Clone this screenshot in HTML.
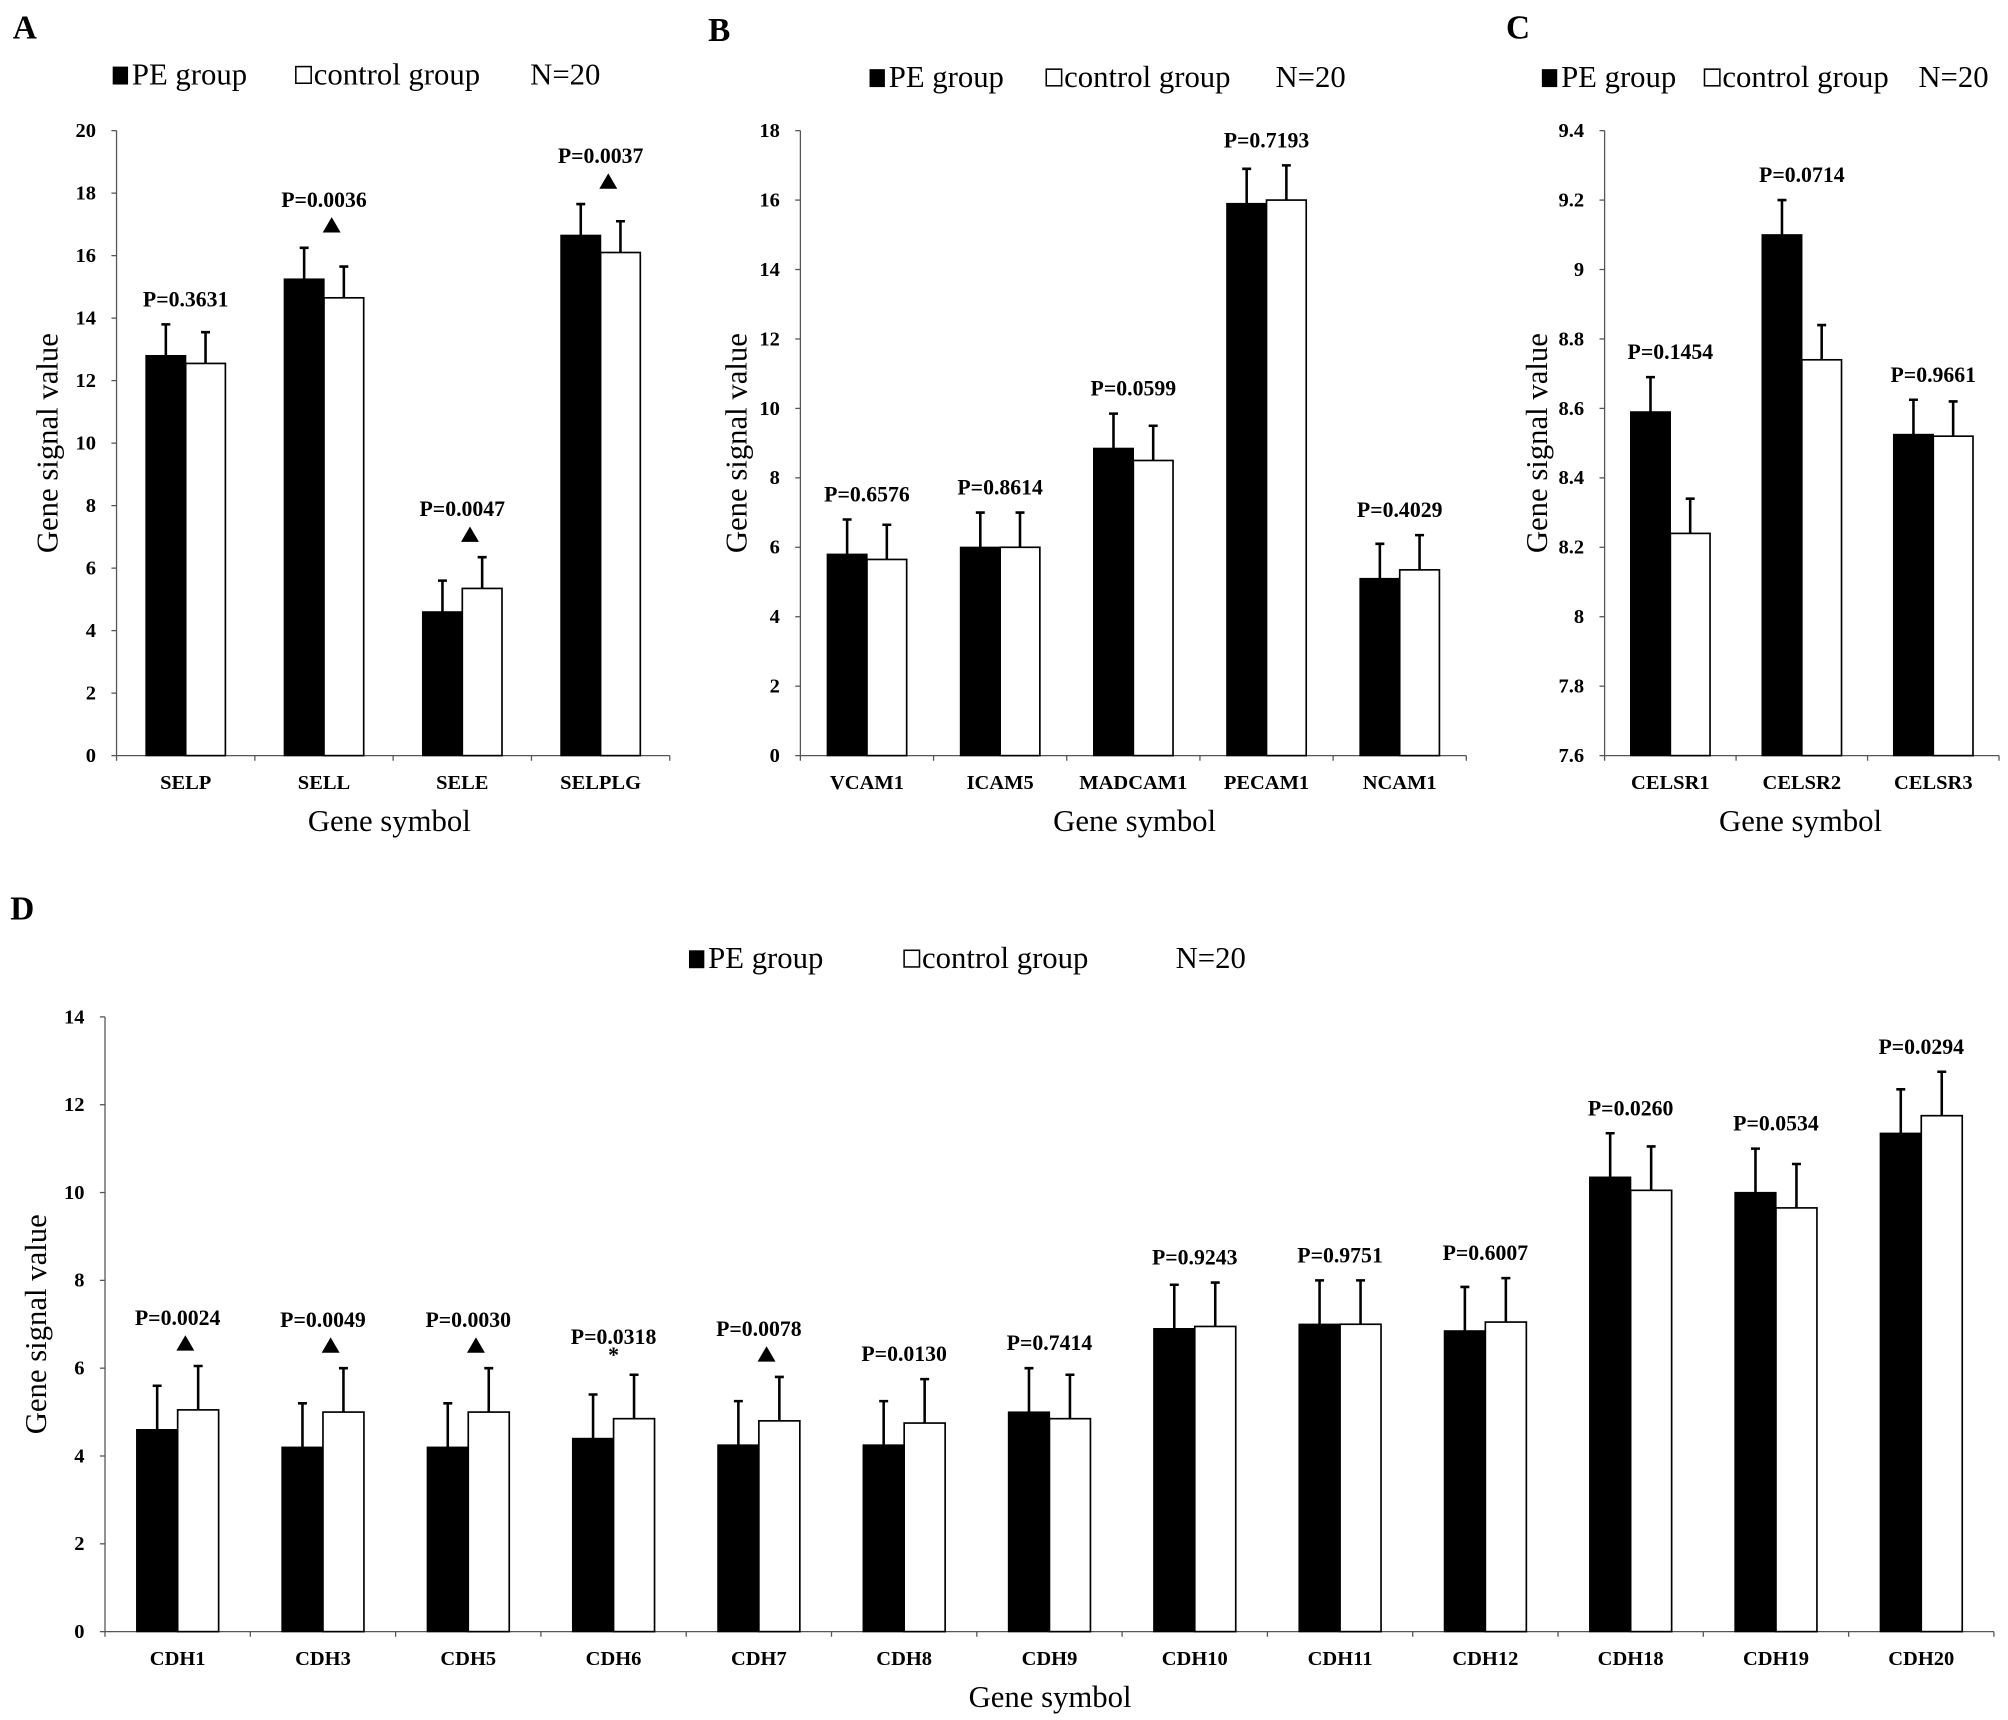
<!DOCTYPE html>
<html><head><meta charset="utf-8"><style>
html,body{margin:0;padding:0;background:#fff}
svg{display:block}
text{font-family:"Liberation Serif",serif;fill:#000}
.tick{font-size:16px;font-weight:bold}
.cat{font-size:16px;font-weight:bold}
.pl{font-size:17px;font-weight:bold}
.tt{font-size:24px}
.lg{font-size:24px}
.pn{font-size:26px;font-weight:bold}
</style></head><body>
<svg id="fig" width="2008" height="1720" viewBox="0 0 1568 1343" preserveAspectRatio="none" xmlns="http://www.w3.org/2000/svg"></svg>
<script>
// Panel A
const catsA = ["SELP","SELL","SELE","SELPLG"];
const peA = [12.8,15.25,4.6,16.65];
const ctA = [12.55,14.65,5.35,16.1];
const errPeA = [1.0,1.0,1.0,1.0];
const errCtA = [1.0,1.0,1.0,1.0];
const pA = ["P=0.3631","P=0.0036","P=0.0047","P=0.0037"];
const mA = ["","tri","tri","tri"];
const ticksA = [0,2,4,6,8,10,12,14,16,18,20];
// Panel B
const catsB = ["VCAM1","ICAM5","MADCAM1","PECAM1","NCAM1"];
const peB = [5.8,6.0,8.85,15.9,5.1];
const ctB = [5.65,6.0,8.5,16.0,5.35];
const errPeB = [1.0,1.0,1.0,1.0,1.0];
const errCtB = [1.0,1.0,1.0,1.0,1.0];
const pB = ["P=0.6576","P=0.8614","P=0.0599","P=0.7193","P=0.4029"];
const mB = ["","","","",""];
const ticksB = [0,2,4,6,8,10,12,14,16,18];
// Panel C
const catsC = ["CELSR1","CELSR2","CELSR3"];
const peC = [8.59,9.1,8.525];
const ctC = [8.24,8.74,8.52];
const errPeC = [0.1,0.1,0.1];
const errCtC = [0.1,0.1,0.1];
const pC = ["P=0.1454","P=0.0714","P=0.9661"];
const mC = ["","",""];
const ticksC = [7.6,7.8,8,8.2,8.4,8.6,8.8,9,9.2,9.4];
// Panel D
const catsD = ["CDH1","CDH3","CDH5","CDH6","CDH7","CDH8","CDH9","CDH10","CDH11","CDH12","CDH18","CDH19","CDH20"];
const peD = [4.6,4.2,4.2,4.4,4.25,4.25,5.0,6.9,7.0,6.85,10.35,10.0,11.35];
const ctD = [5.05,5.0,5.0,4.85,4.8,4.75,4.85,6.95,7.0,7.05,10.05,9.65,11.75];
const errPeD = [1,1,1,1,1,1,1,1,1,1,1,1,1];
const errCtD = [1,1,1,1,1,1,1,1,1,1,1,1,1];
const pD = ["P=0.0024","P=0.0049","P=0.0030","P=0.0318","P=0.0078","P=0.0130","P=0.7414","P=0.9243","P=0.9751","P=0.6007","P=0.0260","P=0.0534","P=0.0294"];
const mD = ["tri","tri","tri","star","tri","","","","","","","",""];
const ticksD = [0,2,4,6,8,10,12,14];

const NS="http://www.w3.org/2000/svg";
const svg=document.getElementById('fig');
function mk(tag,attrs,parent,txt){const e=document.createElementNS(NS,tag);for(const k in attrs)e.setAttribute(k,attrs[k]);if(txt!==undefined)e.textContent=txt;(parent||svg).appendChild(e);return e;}

function panel(o){
  const g=mk('g',{});
  
  
  const ymin=o.ticks[0], ymax=o.ticks[o.ticks.length-1];
  const Y=v=>o.y0-(v-ymin)/(ymax-ymin)*(o.y0-o.yTop);
  const n=o.cats.length, cw=(o.xEnd-o.x0)/n;
  const X=i=>o.x0+cw*(i+0.5);
  const L=mk('text',{x:o.lx,y:o.ly,class:'pn'},g,o.letter);
  
  
  const lg=mk('g',{},g);
  
  
  const s1=mk('rect',{x:o.leg[0],y:o.legY-14,width:12,height:14,fill:'#000'},lg);
  
  
  const t1=mk('text',{x:o.leg[0]+15,y:o.legY,class:'lg'},lg,'PE group');
  
  
  const s2=mk('rect',{x:o.leg[1],y:o.legY-14,width:12,height:13,fill:'#fff',stroke:'#000','stroke-width':1.2},lg);
  
  
  const t2=mk('text',{x:o.leg[1]+14,y:o.legY,class:'lg'},lg,'control group');
  
  
  const t3=mk('text',{x:o.leg[2],y:o.legY,class:'lg'},lg,'N=20');
  
  
  const ya=mk('line',{x1:o.x0,y1:o.yTop,x2:o.x0,y2:o.y0,stroke:'#555','stroke-width':1},g);
  
  
  const xa=mk('line',{x1:o.x0,y1:o.y0,x2:o.xEnd,y2:o.y0,stroke:'#555','stroke-width':1},g);
  
  
  o.ticks.forEach(t=>{
    mk('line',{x1:o.x0-4,y1:Y(t),x2:o.x0,y2:Y(t),stroke:'#555'},g);
    const tl=mk('text',{x:o.x0-16,y:Y(t)+5,class:'tick','text-anchor':'end'},g,String(t));
    
    
  });
  for(let i=0;i<=n;i++) mk('line',{x1:o.x0+cw*i,y1:o.y0,x2:o.x0+cw*i,y2:o.y0+4,stroke:'#555'},g);
  const bw=o.bw;
  o.cats.forEach((c,i)=>{
    const cx=X(i);
    const b1=mk('rect',{x:cx-bw,y:Y(o.pe[i]),width:bw,height:o.y0-Y(o.pe[i]),fill:'#000',stroke:'#000'},g);
    
    
    const b2=mk('rect',{x:cx,y:Y(o.ct[i]),width:bw,height:o.y0-Y(o.ct[i]),fill:'#fff',stroke:'#000','stroke-width':1.3},g);
    
    
    const e1t=Y(o.pe[i]+o.epe[i]), e2t=Y(o.ct[i]+o.ect[i]);
    const ex1=cx-bw/2, ex2=cx+bw/2;
    const e1=mk('path',{d:`M${ex1},${Y(o.pe[i])}V${e1t}M${ex1-3.5},${e1t}H${ex1+3.5}`,stroke:'#000','stroke-width':2,fill:'none'},g);
    
    
    const e2=mk('path',{d:`M${ex2},${Y(o.ct[i])}V${e2t}M${ex2-3.5},${e2t}H${ex2+3.5}`,stroke:'#000','stroke-width':2,fill:'none'},g);
    
    
    const top=Math.min(e1t,e2t);
    let py=top-14;
    if(o.mk[i]==='tri'){
      const ty=top-12, tx=cx+6;
      const tr=mk('path',{d:`M${tx-7},${ty}L${tx+7},${ty}L${tx},${ty-12}Z`,fill:'#000'},g);
      
      
      py=ty-20;
    } else if(o.mk[i]==='star'){
      const st=mk('text',{x:cx,y:top-10,class:'pl','text-anchor':'middle'},g,'*');
      
      
      py=top-24;
    }
    const pt=mk('text',{x:cx,y:py,class:'pl','text-anchor':'middle'},g,o.p[i]);
    
    
    const cl=mk('text',{x:cx,y:o.y0+26,class:'cat','text-anchor':'middle'},g,c);
    
    
  });
  const yt=mk('text',{x:0,y:0,class:'tt','text-anchor':'middle',transform:`translate(${o.ytx},${(o.y0+o.yTop)/2}) rotate(-90)`},g,'Gene signal value');
  
  
  const xt=mk('text',{x:o.xtx,y:o.y0+59,class:'tt','text-anchor':'middle'},g,'Gene symbol');
  
  
}
panel({name:'panel-a',letter:'A',lx:10,ly:30,leg:[88,231,414],legY:66,x0:91,xEnd:523,y0:590,yTop:102,ticks:ticksA,cats:catsA,pe:peA,ct:ctA,epe:errPeA,ect:errCtA,p:pA,mk:mA,bw:31,ytx:45,xtx:304});
panel({name:'panel-b',letter:'B',lx:553,ly:32,leg:[679,817,996],legY:68,x0:625,xEnd:1145,y0:590,yTop:102,ticks:ticksB,cats:catsB,pe:peB,ct:ctB,epe:errPeB,ect:errCtB,p:pB,mk:mB,bw:31,ytx:583,xtx:886});
panel({name:'panel-c',letter:'C',lx:1176,ly:30,leg:[1204,1331,1498],legY:68,x0:1253,xEnd:1561,y0:590,yTop:102,ticks:ticksC,cats:catsC,pe:peC,ct:ctC,epe:errPeC,ect:errCtC,p:pC,mk:mC,bw:31,ytx:1208,xtx:1406});
panel({name:'panel-d',letter:'D',lx:8,ly:718,leg:[538,706,918],legY:756,x0:82,xEnd:1557,y0:1274,yTop:794,ticks:ticksD,cats:catsD,pe:peD,ct:ctD,epe:errPeD,ect:errCtD,p:pD,mk:mD,bw:32,ytx:36,xtx:820});
</script>
</body></html>
